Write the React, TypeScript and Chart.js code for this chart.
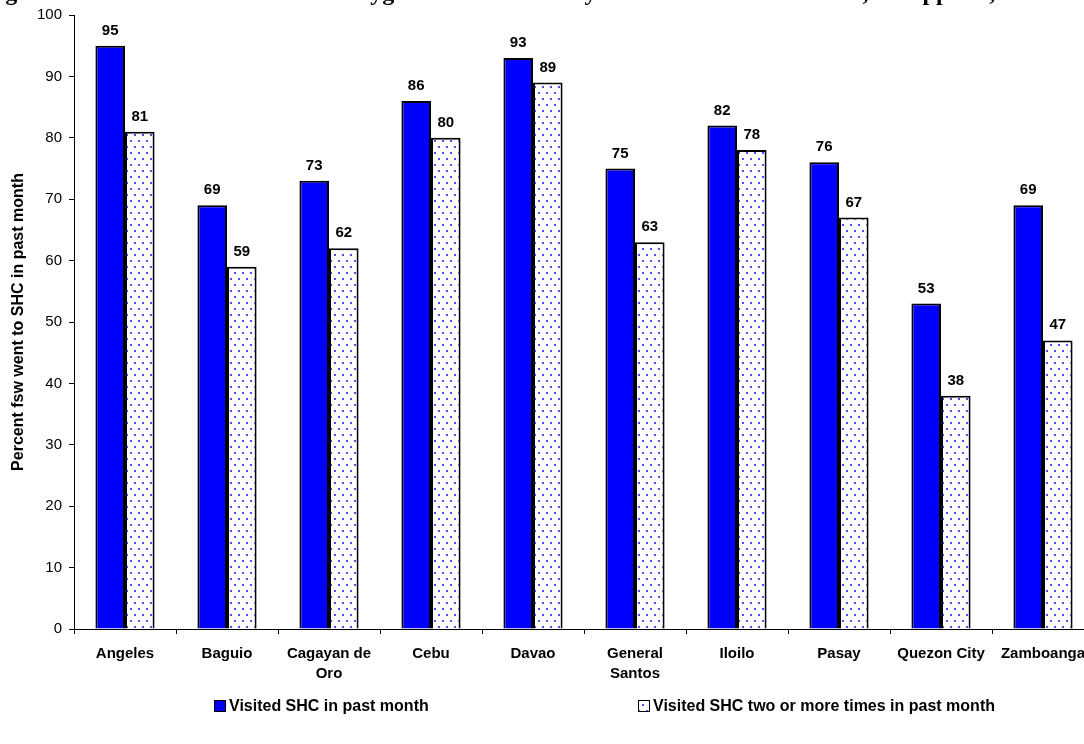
import React, { useEffect, useRef } from "react";
import { Chart, registerables } from "chart.js";

Chart.register(...registerables);

const chartTitle =
  "Figure 4 Female Sex Worker Social Hygiene Clinic Visits by Sentinel Surveillance Site, Philippines, 2005";
const categories: (string | string[])[] = [
  "Angeles",
  "Baguio",
  ["Cagayan de", "Oro"],
  "Cebu",
  "Davao",
  ["General", "Santos"],
  "Iloilo",
  "Pasay",
  "Quezon City",
  "Zamboanga",
];
const visitedPastMonth = [95, 69, 73, 86, 93, 75, 82, 76, 53, 69];
const visitedTwoOrMore = [81, 59, 62, 80, 89, 63, 78, 67, 38, 47];
const seriesNames = [
  "Visited SHC in past month",
  "Visited SHC two or more times in past month",
];
const yAxisTitle = "Percent fsw went to SHC in past month";
const yMin = 0;
const yMax = 100;
const yStep = 10;

const TOP = 30; // canvas offset above the page
const CW = 1130;
const CH = 774;
const SANS = '"Liberation Sans", Arial, sans-serif';

function makeDotPattern(): CanvasPattern | string {
  const c = document.createElement("canvas");
  c.width = 8;
  c.height = 12;
  const g = c.getContext("2d");
  if (!g) return "#ffffff";
  g.fillStyle = "#ffffff";
  g.fillRect(0, 0, 8, 12);
  g.fillStyle = "#4d4dff";
  g.fillRect(2, 2, 2, 2);
  g.fillRect(6, 8, 2, 2);
  const p = g.createPattern(c, "repeat");
  return p || "#ffffff";
}

export default function App() {
  const ref = useRef<HTMLCanvasElement | null>(null);

  useEffect(() => {
    const canvas = ref.current;
    if (!canvas) return;
    const pattern = makeDotPattern();

    const titlePlugin = {
      id: "clippedTitle",
      afterDraw(chart: any) {
        const ctx = chart.ctx;
        ctx.save();
        ctx.font = 'bold 24px "Liberation Serif", "Times New Roman", serif';
        ctx.fillStyle = "#000";
        ctx.textAlign = "left";
        ctx.textBaseline = "alphabetic";
        ctx.fillText(chartTitle, -16, TOP - 0.5);
        ctx.restore();
      },
    };

    const valueLabels = {
      id: "valueLabels",
      afterDatasetsDraw(chart: any) {
        const ctx = chart.ctx;
        ctx.save();
        ctx.font = "bold 15px " + SANS;
        ctx.fillStyle = "#000";
        ctx.textAlign = "center";
        ctx.textBaseline = "alphabetic";
        chart.data.datasets.forEach((ds: any, di: number) => {
          const meta = chart.getDatasetMeta(di);
          meta.data.forEach((el: any, i: number) => {
            ctx.fillText(String(ds.data[i]), el.x, el.y - 11);
          });
        });
        ctx.restore();
      },
    };

    const customLegend = {
      id: "customLegend",
      afterDraw(chart: any) {
        const ctx = chart.ctx;
        const yc = 706 + TOP;
        const items = [
          { x: 214, fill: "#0000ff" as any },
          { x: 638, fill: pattern as any },
        ];
        ctx.save();
        ctx.font = "bold 16px " + SANS;
        ctx.textBaseline = "middle";
        ctx.textAlign = "left";
        items.forEach((it, i) => {
          ctx.fillStyle = it.fill;
          ctx.fillRect(it.x, yc - 6, 12, 12);
          ctx.strokeStyle = "#000";
          ctx.lineWidth = 1;
          ctx.strokeRect(it.x + 0.5, yc - 5.5, 11, 11);
          ctx.fillStyle = "#000";
          ctx.fillText(seriesNames[i], it.x + 15, yc + 1);
        });
        ctx.restore();
      },
    };

    const chart = new Chart(canvas, {
      type: "bar",
      data: {
        labels: categories as any,
        datasets: [
          {
            label: seriesNames[0],
            data: visitedPastMonth,
            backgroundColor: "#0000ff",
            borderColor: "#000000",
            borderWidth: 2,
            categoryPercentage: 0.58,
            barPercentage: 1.0,
          },
          {
            label: seriesNames[1],
            data: visitedTwoOrMore,
            backgroundColor: pattern as any,
            borderColor: "#000000",
            borderWidth: 2,
            categoryPercentage: 0.58,
            barPercentage: 1.0,
          },
        ],
      },
      options: {
        responsive: false,
        animation: false,
        layout: { padding: { left: 0, right: CW - 1094, top: 15 + TOP, bottom: 55 } },
        plugins: {
          legend: { display: false },
          title: { display: false },
          tooltip: { enabled: false },
        },
        scales: {
          x: {
            grid: {
              display: true,
              drawOnChartArea: false,
              drawTicks: true,
              tickLength: 5,
              color: "#000",
              offset: true,
            },
            border: { display: true, color: "#000", width: 1 },
            ticks: {
              color: "#000",
              font: { family: SANS, size: 15, weight: "bold", lineHeight: 1.33 },
              padding: 10,
              maxRotation: 0,
              autoSkip: false,
            },
            afterFit(scale: any) {
              scale.height = 60;
            },
          },
          y: {
            min: yMin,
            max: yMax,
            ticks: {
              stepSize: yStep,
              color: "#000",
              font: { family: SANS, size: 15 },
              padding: 7,
            },
            grid: {
              display: true,
              drawOnChartArea: false,
              drawTicks: true,
              tickLength: 5,
              color: "#000",
            },
            border: { display: true, color: "#000", width: 1 },
            title: {
              display: true,
              text: yAxisTitle,
              color: "#000",
              font: { family: SANS, size: 16, weight: "bold" },
              padding: { top: 9, bottom: 0 },
            },
            afterFit(scale: any) {
              scale.width = 74;
            },
          },
        },
      },
      plugins: [valueLabels, customLegend, titlePlugin],
    });

    return () => {
      chart.destroy();
    };
  }, []);

  return (
    <div
      style={{
        position: "fixed",
        left: 0,
        top: 0,
        width: 1084,
        height: 744,
        overflow: "hidden",
        background: "#ffffff",
      }}
    >
      <canvas
        ref={ref}
        width={CW}
        height={CH}
        style={{ position: "absolute", left: 0, top: -TOP, width: CW, height: CH }}
      />
    </div>
  );
}
